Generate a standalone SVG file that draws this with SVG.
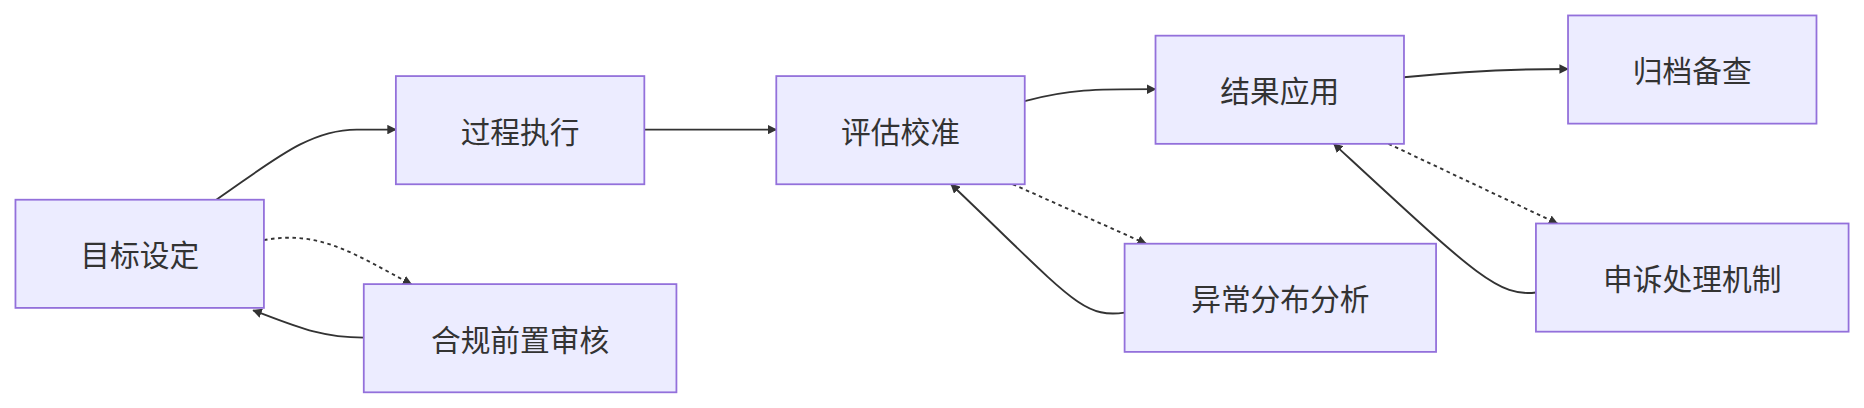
<svg xmlns="http://www.w3.org/2000/svg" width="1864" height="408" viewBox="0 0 1864 408">
<style>
.n rect{fill:#ECECFF;stroke:#9370DB;stroke-width:1.5}
.n text{font-family:"Noto Sans CJK SC",sans-serif;font-size:25px;fill:#333;text-anchor:middle;dominant-baseline:central}
.e path{fill:none;stroke:#333;stroke-width:1.6}
.e .d{stroke-dasharray:3 3}
</style>
<defs><marker id="a" viewBox="0 0 10 10" refX="9" refY="5" markerWidth="8" markerHeight="8" markerUnits="userSpaceOnUse" orient="auto"><path d="M0,0L10,5L0,10z" fill="#333"/></marker></defs>
<rect width="1864" height="408" fill="#fff"/>
<g transform="scale(1.1888)">
<g class="e">
<path d="M182,168 C230,135 260,109 300,109 L333,109" marker-end="url(#a)"/>
<path d="M542,109 L653,109" marker-end="url(#a)"/>
<path d="M862,85 C900,75 920,75 972,75" marker-end="url(#a)"/>
<path d="M1181,65 C1230,60 1270,58 1319,58" marker-end="url(#a)"/>
<path class="d" d="M222,202 C270,193 300,215 346,239" marker-end="url(#a)"/>
<path d="M306,284 C270,284 250,275 213,261" marker-end="url(#a)"/>
<path class="d" d="M852,155 L964,205" marker-end="url(#a)"/>
<path d="M946,263 C910,268 900,250 800,155" marker-end="url(#a)"/>
<path class="d" d="M1168,121 L1310,188" marker-end="url(#a)"/>
<path d="M1292,246 C1260,250 1240,230 1122,121" marker-end="url(#a)"/>
</g>
<g id="n1" class="n"><rect x="13" y="168" width="209" height="91"/><text x="117.5" y="213.5">目标设定</text></g>
<g id="n2" class="n"><rect x="333" y="64" width="209" height="91"/><text x="437.5" y="109.5">过程执行</text></g>
<g id="n3" class="n"><rect x="653" y="64" width="209" height="91"/><text x="757.5" y="109.5">评估校准</text></g>
<g id="n4" class="n"><rect x="972" y="30" width="209" height="91"/><text x="1076.5" y="75.5">结果应用</text></g>
<g id="n5" class="n"><rect x="1319" y="13" width="209" height="91"/><text x="1423.5" y="58.5">归档备查</text></g>
<g id="n6" class="n"><rect x="306" y="239" width="263" height="91"/><text x="437.5" y="284.5">合规前置审核</text></g>
<g id="n7" class="n"><rect x="946" y="205" width="262" height="91"/><text x="1077" y="250.5">异常分布分析</text></g>
<g id="n8" class="n"><rect x="1292" y="188" width="263" height="91"/><text x="1423.5" y="233.5">申诉处理机制</text></g>
</g>
</svg>
